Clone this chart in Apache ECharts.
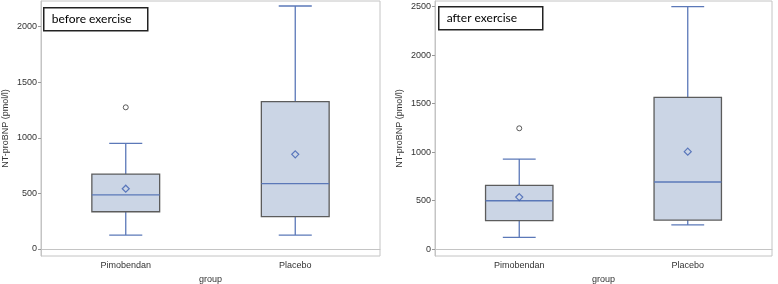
<!DOCTYPE html>
<html>
<head>
<meta charset="utf-8">
<script src="https://cdn.jsdelivr.net/npm/echarts@6/dist/echarts.min.js"></script>
<style>
  html, body { margin: 0; padding: 0; background: #fff; }
  #chart { width: 778px; height: 284px; }
</style>
</head>
<body>
<div id="chart"></div>
<script>
// groups on the x axis
const groups = ['Pimobendan', 'Placebo']

// box stats: [groupIndex, whiskerLow, Q1, median, Q3, whiskerHigh]
const beforeBoxes = [
  [0, 125, 335, 486, 674, 950],
  [1, 125, 291, 587, 1325, 2185]
]
const afterBoxes = [
  [0, 120, 292, 498, 657, 928],
  [1, 248, 299, 691, 1565, 2500]
]
// means (diamond)
const beforeMeans = [[0, 542], [1, 851]]
const afterMeans = [[0, 536], [1, 1004]]
// outliers (circle)
const beforeOutliers = [[0, 1274]]
const afterOutliers = [[0, 1245]]

// y tick labels
const beforeTicks = [0, 500, 1000, 1500, 2000]
const afterTicks = [0, 500, 1000, 1500, 2000, 2500]

const chart = echarts.init(document.getElementById('chart'))

const fillColor = '#cbd5e5'
const edgeColor = '#5c5c5c'
const blue = '#5b78b8'
const axisGray = '#c4c4c4'
const font = '"Liberation Sans", Arial, sans-serif'

// box with half-width whisker caps, blue whiskers + median, grey box edge
const renderBox = function (params, api) {
  const x = api.value(0)
  const low = api.coord([x, api.value(1)])
  const q1 = api.coord([x, api.value(2)])
  const med = api.coord([x, api.value(3)])
  const q3 = api.coord([x, api.value(4)])
  const high = api.coord([x, api.value(5)])
  const band = api.size([1, 0])[0]
  const bw = band * 0.4
  const cw = band * 0.195
  const cx = med[0]
  const lineStyle = { stroke: blue, lineWidth: 1.3 }
  return {
    type: 'group',
    children: [
      { type: 'line', shape: { x1: cx, y1: low[1], x2: cx, y2: q1[1] }, style: lineStyle },
      { type: 'line', shape: { x1: cx, y1: q3[1], x2: cx, y2: high[1] }, style: lineStyle },
      { type: 'line', shape: { x1: cx - cw / 2, y1: low[1], x2: cx + cw / 2, y2: low[1] }, style: lineStyle },
      { type: 'line', shape: { x1: cx - cw / 2, y1: high[1], x2: cx + cw / 2, y2: high[1] }, style: lineStyle },
      {
        type: 'rect',
        shape: { x: cx - bw / 2, y: q3[1], width: bw, height: q1[1] - q3[1] },
        style: { fill: fillColor, stroke: edgeColor, lineWidth: 1.3 }
      },
      { type: 'line', shape: { x1: cx - bw / 2, y1: med[1], x2: cx + bw / 2, y2: med[1] }, style: lineStyle }
    ]
  }
}

const makeX = (gi) => ({
  type: 'category',
  gridIndex: gi,
  data: groups,
  name: 'group',
  nameLocation: 'middle',
  nameGap: 18,
  nameTextStyle: { fontSize: 9, color: '#333', fontFamily: font },
  axisLine: { lineStyle: { color: axisGray } },
  axisTick: { alignWithLabel: true, length: 3, lineStyle: { color: '#999' } },
  axisLabel: { fontSize: 9, color: '#333', margin: 5, fontFamily: font }
})

const makeY = (gi, min, max, ticks) => ({
  type: 'value',
  gridIndex: gi,
  min: min,
  max: max,
  name: 'NT-proBNP (pmol/l)',
  nameLocation: 'middle',
  nameGap: 31,
  nameTextStyle: { fontSize: 9, color: '#333', fontFamily: font },
  splitLine: { show: false },
  axisLine: { show: true, lineStyle: { color: axisGray } },
  axisTick: { show: true, length: 3, customValues: ticks, lineStyle: { color: '#999' } },
  axisLabel: {
    fontSize: 9, color: '#333', margin: 4, customValues: ticks, fontFamily: font,
    formatter: (v) => String(v)
  }
})

const labelBox = (x, y, w, text) => ({
  type: 'group',
  left: x,
  top: y,
  children: [
    { type: 'rect', shape: { x: 0, y: 0, width: w, height: 23 }, style: { fill: '#fff', stroke: '#222', lineWidth: 1.5 } },
    { type: 'text', x: 8, y: 11.5, style: { text: text, fill: '#000', font: '12px Lato, "Open Sans", sans-serif', verticalAlign: 'middle' } }
  ]
})

const option = {
  animation: false,
  grid: [
    { left: 41, top: 1, width: 339, height: 255, show: true, borderColor: axisGray, borderWidth: 1, outerBoundsMode: 'none', containLabel: false },
    { left: 435, top: 1, width: 337, height: 255, show: true, borderColor: axisGray, borderWidth: 1, outerBoundsMode: 'none', containLabel: false }
  ],
  xAxis: [makeX(0), makeX(1)],
  yAxis: [makeY(0, -63, 2230, beforeTicks), makeY(1, -72, 2558, afterTicks)],
  graphic: [
    labelBox(43, 7, 104, 'before exercise'),
    labelBox(438, 6, 104, 'after exercise')
  ],
  series: [
    { type: 'custom', xAxisIndex: 0, yAxisIndex: 0, renderItem: renderBox, data: beforeBoxes, encode: { x: 0, y: [1, 2, 3, 4, 5] } },
    { type: 'custom', xAxisIndex: 1, yAxisIndex: 1, renderItem: renderBox, data: afterBoxes, encode: { x: 0, y: [1, 2, 3, 4, 5] } },
    {
      type: 'scatter', xAxisIndex: 0, yAxisIndex: 0, data: beforeMeans, symbol: 'diamond', symbolSize: 7, z: 5,
      itemStyle: { color: 'rgba(0,0,0,0)', borderColor: '#3d5fb0', borderWidth: 1.2 }
    },
    {
      type: 'scatter', xAxisIndex: 1, yAxisIndex: 1, data: afterMeans, symbol: 'diamond', symbolSize: 7, z: 5,
      itemStyle: { color: 'rgba(0,0,0,0)', borderColor: '#3d5fb0', borderWidth: 1.2 }
    },
    {
      type: 'scatter', xAxisIndex: 0, yAxisIndex: 0, data: beforeOutliers, symbol: 'circle', symbolSize: 5, z: 5,
      itemStyle: { color: 'rgba(0,0,0,0)', borderColor: '#333', borderWidth: 1 }
    },
    {
      type: 'scatter', xAxisIndex: 1, yAxisIndex: 1, data: afterOutliers, symbol: 'circle', symbolSize: 5, z: 5,
      itemStyle: { color: 'rgba(0,0,0,0)', borderColor: '#333', borderWidth: 1 }
    }
  ]
}

chart.setOption(option)
</script>
</body>
</html>
